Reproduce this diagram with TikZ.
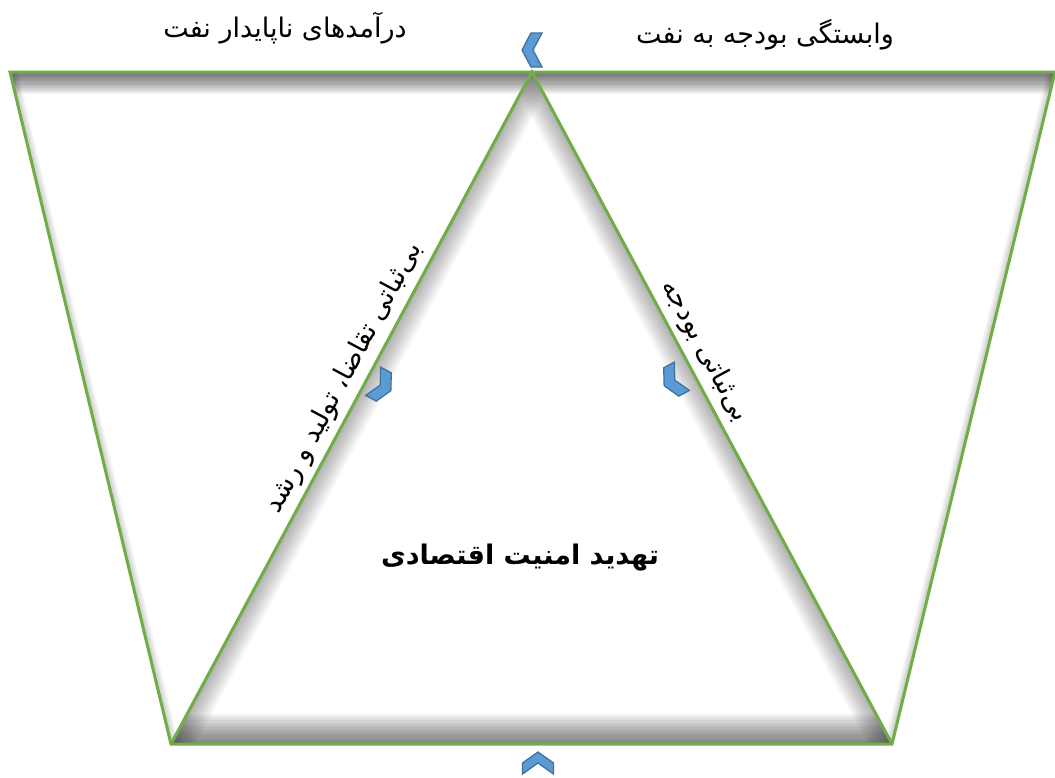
\documentclass[tikz,border=0pt]{standalone}
\usepackage{fontspec}
\usetikzlibrary{calc}
\newfontfamily\fa[Script=Arabic]{DejaVu Sans}
\TeXXeTstate=1
\definecolor{grn}{HTML}{70AD47}
\definecolor{chfill}{HTML}{5B9BD5}
\definecolor{chdraw}{HTML}{41719C}
\tikzset{
  edge/.style={draw=grn,line width=3pt,line join=miter},
  chev/.style={fill=chfill,draw=chdraw,line width=1.3pt,line join=miter},
  lbl/.style={font=\fa\fontsize{27}{32}\selectfont,inner sep=2pt},
  ttl/.style={font=\fa\bfseries\fontsize{27}{32}\selectfont,inner sep=2pt},
  slant/.style={lbl,anchor=south,inner ysep=7pt}
}
\newcommand\myshadow[3]{%
  \foreach \k in {1,...,14}{\pgfmathsetmacro\lw{\k*#2/7}\draw[line width=\lw pt,black,opacity=#3,line cap=butt] #1;}}
\newcommand\chevron[6]{%
  \begin{scope}[shift={(#1,#2)},rotate=#3]
    \path[chev] (-#4/2,-#5/2) -- (-#4/2+#6,-#5/2) -- (#4/2,0) -- (-#4/2+#6,#5/2) -- (-#4/2,#5/2) -- (#4/2-#6,0) -- cycle;
  \end{scope}}
\begin{document}
\begin{tikzpicture}[x=1pt,y=-1pt]
\useasboundingbox (0,0) rectangle (1055,777);
\fill[white] (0,0) rectangle (1055,777);
\coordinate (L) at (10,72);
\coordinate (R) at (1055,72);
\coordinate (A) at (532,72);
\coordinate (B) at (171,744);
\coordinate (C) at (892,744);
% inner shadows
\begin{scope}
  \clip (A) -- (B) -- (C) -- cycle;
  \myshadow{(B) -- (C)}{30}{0.045}
  \myshadow{(A) -- (B)}{22}{0.022}
  \myshadow{(A) -- (C)}{22}{0.022}
\end{scope}
\begin{scope}
  \clip (L) -- (A) -- (B) -- cycle;
  \myshadow{(L) -- (A)}{22}{0.05}
  \myshadow{(L) -- (B)}{8}{0.015}
\end{scope}
\begin{scope}
  \clip (A) -- (R) -- (C) -- cycle;
  \myshadow{(A) -- (R)}{22}{0.05}
  \myshadow{(R) -- (C)}{8}{0.015}
\end{scope}
% outlines
\draw[edge] (L) -- (R) -- (C) -- (B) -- cycle;
\draw[edge] (B) -- (A) -- (C);
% chevrons
\chevron{532}{50}{180}{20}{34}{11}
\chevron{538}{763}{90}{22}{31}{11}
\chevron{382}{386}{-28}{20}{32}{12}
\chevron{673}{381}{208}{20}{32}{12}
% labels
\node[lbl] (t1) at (285,28) {\beginR درآمدهای ناپایدار نفت\endR};
\node[lbl] (t2) at (765,35) {\beginR وابستگی بودجه به نفت\endR};
\node[ttl] (t3) at (520,558) {\beginR تهدید امنیت اقتصادی\endR};
\node[slant,rotate=61.8] (t4) at ($(A)!0.47!(B)$) {\beginR بی‌ثباتی تقاضا، تولید و رشد\endR};
\node[slant,rotate=-61.7] (t5) at ($(A)!0.43!(C)$) {\beginR بی‌ثباتی بودجه\endR};
\end{tikzpicture}
\end{document}
